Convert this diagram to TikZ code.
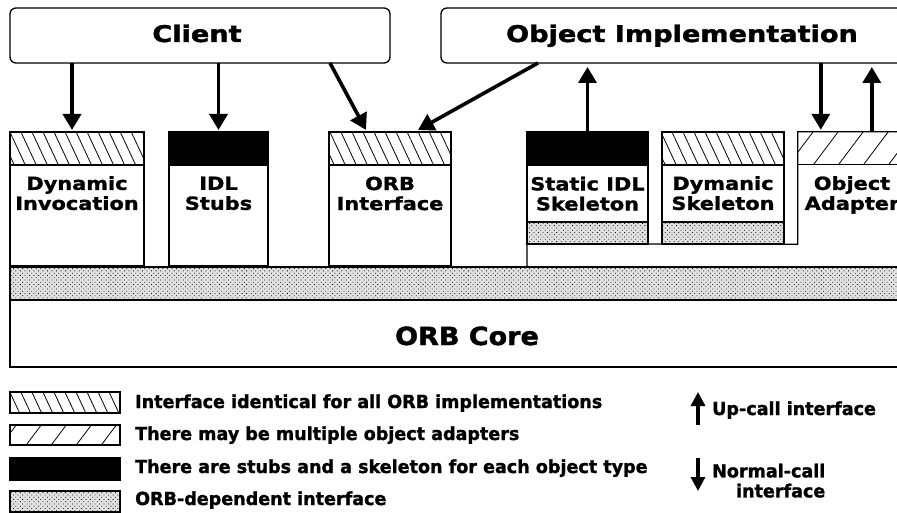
\documentclass[tikz,border=0pt]{standalone}
\usepackage{fontspec}
\setmainfont{DejaVu Sans}
\newfontfamily\titlefam{DejaVu Sans}[FakeStretch=1.18, FakeBold=1.6]
\newfontfamily\boxfam{DejaVu Sans}[FakeStretch=1.16, FakeBold=1.4]
\newfontfamily\corefam{DejaVu Sans}[FakeStretch=1.08, FakeBold=1.6]
\newfontfamily\legendfam{DejaVu Sans}[FakeStretch=0.975, FakeBold=1.4]
\usetikzlibrary{arrows.meta,patterns.meta}

\tikzset{
  outline/.style={draw=black, line width=1.3pt},
  boxnode/.style={outline, fill=white, rectangle, inner sep=0pt, outer sep=0pt},
  titlebox/.style={boxnode, rounded corners=6pt},
  backhatch/.style={pattern={Lines[angle=-65,distance=10pt,line width=0.8pt]}},
  fwdhatch/.style={pattern={Lines[angle=53,distance=20pt,line width=0.8pt]}},
  stipple/.style={preaction={fill=black!12}, pattern={Dots[angle=45,distance=3.2pt,radius=0.55pt]}},
  solidband/.style={fill=black},
  arr/.style={line width=3.6pt, -{Triangle[width=18pt,length=16pt]}},
  legarr/.style={line width=3.2pt, -{Triangle[width=14pt,length=14pt]}},
  titletext/.style={font=\titlefam\bfseries\fontsize{23}{25}\selectfont, inner sep=0pt},
  boxtext/.style={font=\boxfam\bfseries\fontsize{18}{20}\selectfont, align=center, inner sep=0pt},
  coretext/.style={font=\corefam\bfseries\fontsize{25}{27}\selectfont, inner sep=0pt},
  legtext/.style={font=\legendfam\bfseries\fontsize{18}{20}\selectfont, inner sep=0pt},
  swatch/.style={outline, rectangle, inner sep=0pt, minimum width=110pt},
}

\begin{document}
\begin{tikzpicture}[x=1pt, y=-1pt]
  \useasboundingbox (0,0) rectangle (897,513);
  \clip (0,0) rectangle (897,513);

  % ORB core and the ORB-dependent layer above it
  \node[boxnode, stipple, minimum width=905pt, minimum height=33pt] (depband) at (462.5,283.5) {};
  \node[boxnode, minimum width=905pt, minimum height=67pt] (core) at (462.5,333.5) {};
  \draw[line width=2.2pt] (core.north west) -- (core.north east);
  \node[coretext, anchor=base] (corelbl) at (467,345) {ORB Core};

  % top-level parties
  \node[titlebox, minimum width=380pt, minimum height=55pt] (client) at (200,35.5) {};
  \node[titletext, anchor=base] (clientlbl) at (197,42) {Client};
  \node[titlebox, minimum width=484pt, minimum height=55pt] (oi) at (683,35.5) {};
  \node[titletext, anchor=base] (oilbl) at (682,42) {Object Implementation};

  % object adapter (L-shaped, carrying the skeletons)
  \node[rectangle, inner sep=0pt, fill=white, minimum width=117pt, minimum height=112pt] (oa) at (856.5,188) {};
  \draw[outline] ([yshift=-23pt]527,244) -- (527,244) -- (oa.south west) -- (oa.north west) -- (oa.north east);
  \draw[outline, fwdhatch] (oa.north west) rectangle ([yshift=-33pt]oa.north east);
  \node[boxtext, anchor=north] (oalbl) at (852,176) {Object\\Adapter};

  % client-side boxes
  \node[boxnode, minimum width=134pt, minimum height=134pt] (di) at (77,199) {};
  \draw[outline, backhatch] (di.north west) rectangle ([yshift=-33pt]di.north east);
  \node[boxtext, anchor=north] (dilbl) at (77,176) {Dynamic\\Invocation};

  \node[boxnode, minimum width=99pt, minimum height=134pt] (stubs) at (218.5,199) {};
  \draw[outline, solidband] (stubs.north west) rectangle ([yshift=-33pt]stubs.north east);
  \node[boxtext, anchor=north] (stubslbl) at (218.5,176.5) {IDL\\Stubs};

  \node[boxnode, minimum width=122pt, minimum height=134pt] (orbi) at (390,199) {};
  \draw[outline, backhatch] (orbi.north west) rectangle ([yshift=-33pt]orbi.north east);
  \node[boxtext, anchor=north] (orbilbl) at (390,176.5) {ORB\\Interface};

  % server-side skeletons
  \node[boxnode, minimum width=121pt, minimum height=112pt] (ss) at (587.5,188) {};
  \draw[outline, solidband] (ss.north west) rectangle ([yshift=-33pt]ss.north east);
  \draw[outline, stipple] (ss.south west) rectangle ([yshift=22pt]ss.south east);
  \node[boxtext, anchor=north] (sslbl) at (587.5,176.5) {Static IDL\\Skeleton};

  \node[boxnode, minimum width=122pt, minimum height=112pt] (ds) at (723,188) {};
  \draw[outline, backhatch] (ds.north west) rectangle ([yshift=-33pt]ds.north east);
  \draw[outline, stipple] (ds.south west) rectangle ([yshift=22pt]ds.south east);
  \node[boxtext, anchor=north] (dslbl) at (723,176) {Dymanic\\Skeleton};

  % calls
  \draw[arr] ([xshift=-5pt]di.north |- client.south) -- ([xshift=-5pt,yshift=2pt]di.north);
  \draw[arr] (stubs.north |- client.south) -- ([yshift=2pt]stubs.north);
  \draw[arr] ([xshift=-60pt]client.south east) -- ([xshift=37pt,yshift=2pt]orbi.north west);
  \draw[arr] ([xshift=97pt]oi.south west) -- ([xshift=89pt,yshift=2pt]orbi.north west);
  \draw[arr] (ss.north) -- ([yshift=-4pt]ss.north |- oi.south);
  \draw[arr] ([xshift=23pt]oa.north west |- oi.south) -- ([xshift=23pt,yshift=2pt]oa.north west);
  \draw[arr] ([xshift=74pt]oa.north west) -- ([xshift=74pt,yshift=-4pt]oa.north west |- oi.south);

  % legend
  \node[swatch, backhatch, minimum height=21pt] (sw1) at (65,402.5) {};
  \node[swatch, fwdhatch, minimum height=20pt] (sw2) at (65,435) {};
  \node[swatch, solidband, minimum height=22pt] (sw3) at (65,469) {};
  \node[swatch, stipple, minimum height=21pt] (sw4) at (65,501.5) {};
  \node[legtext, anchor=base west] (lg1) at (135,408) {Interface identical for all ORB implementations};
  \node[legtext, anchor=base west] (lg2) at (135,440) {There may be multiple object adapters};
  \node[legtext, anchor=base west] (lg3) at (135,473) {There are stubs and a skeleton for each object type};
  \node[legtext, anchor=base west] (lg4) at (135,505) {ORB-dependent interface};

  \coordinate (upfrom) at (698,425);
  \coordinate (upto) at (698,392);
  \draw[legarr] (upfrom) -- (upto);
  \node[legtext, anchor=base west] (lgup) at (712,415) {Up-call interface};

  \coordinate (downfrom) at (698,458);
  \coordinate (downto) at (698,491);
  \draw[legarr] (downfrom) -- (downto);
  \node[legtext, align=right, anchor=north west] (lgdown) at (712,463.5) {Normal-call\\interface};
\end{tikzpicture}
\end{document}
